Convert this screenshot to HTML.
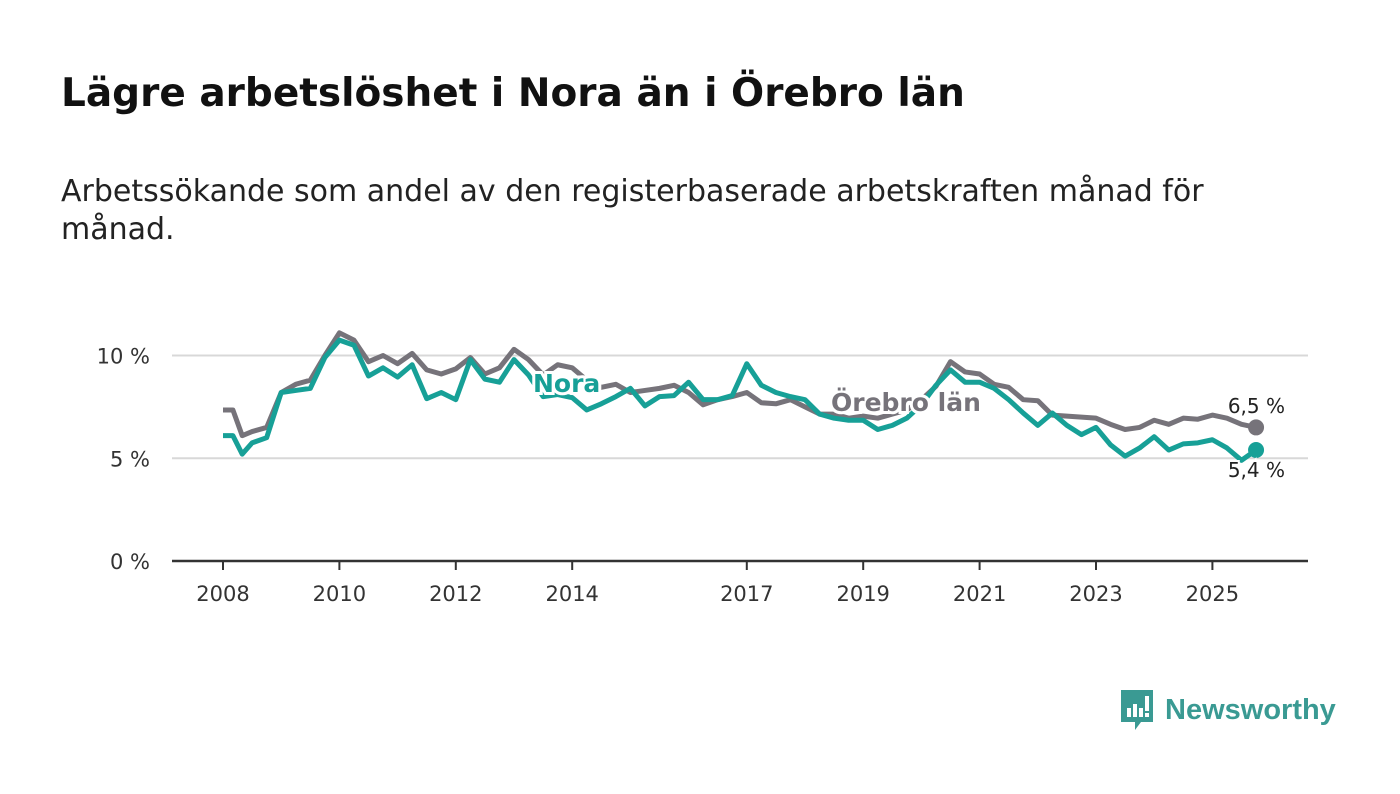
<!DOCTYPE html>
<html><head><meta charset="utf-8"><style>
body{margin:0;background:#fff;font-family:"DejaVu Sans","Liberation Sans",sans-serif;}
#wrap{position:relative;width:1400px;height:794px;overflow:hidden}
h1{position:absolute;left:61px;top:71px;margin:0;font-size:39px;font-weight:bold;color:#111;white-space:nowrap}
p.sub{position:absolute;left:61px;top:173px;margin:0;font-size:30px;line-height:38px;color:#222;white-space:nowrap}
svg{position:absolute;left:0;top:0}
</style></head><body><div id="wrap">
<h1>Lägre arbetslöshet i Nora än i Örebro län</h1>
<p class="sub">Arbetssökande som andel av den registerbaserade arbetskraften månad för<br>månad.</p>
<svg id="chart" width="1400" height="794"></svg>
<div style="position:absolute;left:1119px;top:690px;height:40px;display:flex;align-items:center">
<svg width="36" height="44" style="position:relative" viewBox="0 0 36 44"><path d="M2 2h32v32H22l-6 8v-8H2z" fill="#3a9a93"/><rect x="8" y="20" width="4" height="9" fill="#fff"/><rect x="14" y="16" width="4" height="13" fill="#fff"/><rect x="20" y="20" width="4" height="9" fill="#fff"/><rect x="26" y="8" width="4" height="15" fill="#fff"/><rect x="26" y="25" width="4" height="4" fill="#fff"/></svg>
<span style="margin-left:10px;font-size:29px;font-family:'Liberation Sans',sans-serif;font-weight:bold;color:#3a9a93">Newsworthy</span></div>
</div>
<script>
const dates=[2008.0,2008.17,2008.33,2008.5,2008.75,2009.0,2009.25,2009.5,2009.75,2010.0,2010.25,2010.5,2010.75,2011.0,2011.25,2011.5,2011.75,2012.0,2012.25,2012.5,2012.75,2013.0,2013.25,2013.5,2013.75,2014.0,2014.25,2014.5,2014.75,2015.0,2015.25,2015.5,2015.75,2016.0,2016.25,2016.5,2016.75,2017.0,2017.25,2017.5,2017.75,2018.0,2018.25,2018.5,2018.75,2019.0,2019.25,2019.5,2019.75,2020.0,2020.25,2020.5,2020.75,2021.0,2021.25,2021.5,2021.75,2022.0,2022.25,2022.5,2022.75,2023.0,2023.25,2023.5,2023.75,2024.0,2024.25,2024.5,2024.75,2025.0,2025.25,2025.5,2025.75];
const orebro=[7.35,7.35,6.1,6.3,6.5,8.2,8.6,8.8,10.0,11.1,10.75,9.7,10.0,9.6,10.1,9.3,9.1,9.35,9.9,9.1,9.4,10.3,9.8,9.05,9.55,9.4,8.8,8.45,8.6,8.2,8.3,8.4,8.55,8.2,7.6,7.85,8.0,8.2,7.7,7.65,7.85,7.5,7.15,7.15,6.95,7.05,6.95,7.15,7.35,7.85,8.5,9.7,9.2,9.1,8.6,8.45,7.85,7.8,7.1,7.05,7.0,6.95,6.65,6.4,6.5,6.85,6.65,6.95,6.9,7.1,6.95,6.65,6.5];
const nora=[6.1,6.1,5.2,5.75,6.0,8.2,8.3,8.4,9.9,10.75,10.5,9.0,9.4,8.95,9.55,7.9,8.2,7.85,9.8,8.85,8.7,9.8,9.05,8.0,8.1,7.95,7.35,7.65,8.0,8.4,7.55,8.0,8.05,8.7,7.85,7.85,8.05,9.6,8.55,8.2,8.0,7.85,7.15,6.95,6.85,6.85,6.4,6.6,6.95,7.6,8.55,9.3,8.7,8.7,8.4,7.85,7.2,6.6,7.2,6.6,6.15,6.5,5.65,5.1,5.5,6.05,5.4,5.7,5.75,5.9,5.5,4.9,5.4];
const yTicks=[0,5,10];
const xTicks=[2008,2010,2012,2014,2017,2019,2021,2023,2025];
const NS="http://www.w3.org/2000/svg",svg=document.getElementById('chart');
const x=v=>223+(v-2008)*58.2, y=v=>561-v*20.55;
function mk(t,a,txt){const e=document.createElementNS(NS,t);for(const k in a)e.setAttribute(k,a[k]);if(txt!=null)e.textContent=txt;svg.appendChild(e);return e;}
yTicks.forEach(t=>{
 const l=mk('line',{x1:172,x2:1308,y1:y(t),y2:y(t),stroke:t?'#d8d8d8':'#333','stroke-width':t?2:2.5});
 
 
 const tx=mk('text',{x:150,y:y(t)+8,'text-anchor':'end','font-size':21,fill:'#333'},t+' %');
 
 
});
xTicks.forEach(t=>{
 const l=mk('line',{x1:x(t),x2:x(t),y1:561,y2:570,stroke:'#333','stroke-width':2});
 
 
 const tx=mk('text',{x:x(t),y:601,'text-anchor':'middle','font-size':21,fill:'#333'},t);
 
 
});
function line(vals,col,name){
 const p=mk('polyline',{points:vals.map((v,i)=>x(dates[i])+','+y(v)).join(' '),fill:'none',stroke:col,'stroke-width':5,'stroke-linejoin':'round'});
 
 
 const n=vals.length-1;
 const c=mk('circle',{cx:x(dates[n]),cy:y(vals[n]),r:8,fill:col});
 
 
}
line(orebro,'#76737a','orebro');
line(nora,'#17a097','nora');
function lab(t,xx,yy,col,name,anchor,bold){
 const e=mk('text',{x:xx,y:yy,'font-size':bold?25:20,'font-weight':bold?'bold':'normal',fill:col,stroke:'#fff','stroke-width':bold?6:4,'paint-order':'stroke','text-anchor':anchor||'start'},t);
 
 
}
lab('Nora',533,392,'#17a097','nora-series-label','start',true);
lab('Örebro län',831,411,'#76737a','orebro-series-label','start',true);
lab('6,5 %',1285,413,'#222','orebro-end-value','end',false);
lab('5,4 %',1285,477,'#222','nora-end-value','end',false);
</script></body></html>
